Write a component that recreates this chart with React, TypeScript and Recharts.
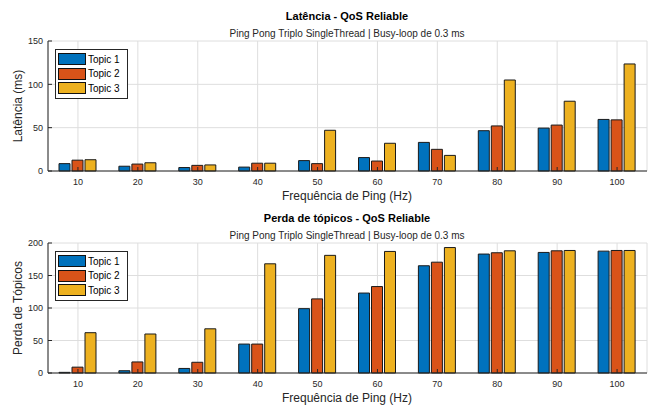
import React from "react"
import { BarChart, Bar, XAxis, YAxis, CartesianGrid } from "recharts"

const freqs = [10, 20, 30, 40, 50, 60, 70, 80, 90, 100]
const topicNames = ["Topic 1", "Topic 2", "Topic 3"]
const topicColors = ["#0072BD", "#D95319", "#EDB120"]

// latência (ms)
const latTopic1 = [8.5, 5.5, 4, 4.5, 12, 15.5, 33, 46.5, 49.5, 59.5]
const latTopic2 = [12.5, 8, 6.5, 9, 8.5, 11.5, 25, 52, 53, 59]
const latTopic3 = [13, 9.5, 7, 9, 47, 32, 18, 105, 80.5, 123.5]
const latTicks = [0, 50, 100, 150]

// perda de tópicos
const lossTopic1 = [1, 3.5, 7, 44.5, 99, 123, 165, 183, 185.5, 187.5]
const lossTopic2 = [9, 17, 16.5, 44.5, 114, 133, 170.5, 185, 188, 188.5]
const lossTopic3 = [62, 60, 68, 168, 181, 187, 193, 188, 188.5, 188.5]
const lossTicks = [0, 50, 100, 150, 200]

const FONT = "'Liberation Sans', Arial, Helvetica, sans-serif"
const AXIS = "#262626"

function buildRows(a: number[], b: number[], c: number[]) {
  return freqs.map((f, i) => ({ freq: f, t1: a[i], t2: b[i], t3: c[i] }))
}

function Label({ x, y, size, bold, rotate, children }: any) {
  return (
    <div
      style={{
        position: "absolute",
        left: x,
        top: y,
        transform: `translate(-50%, -50%)${rotate ? " rotate(-90deg)" : ""}`,
        fontSize: size,
        fontWeight: bold ? "bold" : "normal",
        color: bold ? "#000" : AXIS,
        whiteSpace: "nowrap",
        fontFamily: FONT,
      }}
    >
      {children}
    </div>
  )
}

function LegendBox({ left, top }: { left: number; top: number }) {
  return (
    <div
      style={{
        position: "absolute",
        left,
        top,
        width: 69,
        padding: "2px 0 2px 2px",
        border: `1px solid ${AXIS}`,
        background: "#fff",
        fontFamily: FONT,
        fontSize: 10,
        color: "#000",
      }}
    >
      {topicNames.map((n, i) => (
        <div key={n} style={{ display: "flex", alignItems: "center", height: 14.5 }}>
          <span
            style={{
              display: "inline-block",
              width: 26,
              height: 10,
              background: topicColors[i],
              border: "1px solid #111",
              marginRight: 2,
            }}
          />
          {n}
        </div>
      ))}
    </div>
  )
}

function Panel({
  rows,
  ticks,
  title,
  yLabel,
  top,
  plotBottom,
}: {
  rows: any[]
  ticks: number[]
  title: string
  yLabel: string
  top: number
  plotBottom: number
}) {
  const h = 203
  const maxY = ticks[ticks.length - 1]
  return (
    <div style={{ position: "absolute", left: 0, top, width: 655, height: h }}>
      <BarChart
        width={655}
        height={h}
        data={rows}
        margin={{ top: 41, right: 8, left: 18, bottom: 0 }}
        barCategoryGap={11}
        barGap={2}
      >
        <CartesianGrid stroke="#dedede" />
        <XAxis
          dataKey="freq"
          interval={0}
          height={h - plotBottom}
          stroke={AXIS}
          tickSize={-4}
          tickMargin={12}
          tick={{ fill: AXIS, fontSize: 9, fontFamily: FONT }}
        />
        <XAxis
          xAxisId="top"
          dataKey="freq"
          orientation="top"
          height={0}
          stroke={AXIS}
          tickSize={-4}
          tick={false}
        />
        <YAxis
          type="number"
          domain={[0, maxY]}
          ticks={ticks}
          width={30}
          stroke={AXIS}
          tickSize={-4}
          tickMargin={9}
          tick={{ fill: AXIS, fontSize: 9, fontFamily: FONT }}
        />
        <YAxis
          yAxisId="right"
          type="number"
          orientation="right"
          domain={[0, maxY]}
          ticks={ticks}
          width={0}
          stroke={AXIS}
          tickSize={-4}
          tick={false}
        />
        <Bar dataKey="t1" name={topicNames[0]} fill={topicColors[0]} stroke="#1a1a1a" strokeWidth={1} isAnimationActive={false} />
        <Bar dataKey="t2" name={topicNames[1]} fill={topicColors[1]} stroke="#1a1a1a" strokeWidth={1} isAnimationActive={false} />
        <Bar dataKey="t3" name={topicNames[2]} fill={topicColors[2]} stroke="#1a1a1a" strokeWidth={1} isAnimationActive={false} />
      </BarChart>
      <Label x={347} y={16} size={11} bold>
        {title}
      </Label>
      <Label x={347} y={33} size={10}>
        Ping Pong Triplo SingleThread | Busy-loop de 0.3 ms
      </Label>
      <Label x={347} y={h - 7} size={12}>
        Frequência de Ping (Hz)
      </Label>
      <Label x={18} y={(41 + plotBottom) / 2} size={12} rotate>
        {yLabel}
      </Label>
      <LegendBox left={55} top={49} />
    </div>
  )
}

export default function App() {
  return (
    <div
      style={{
        position: "absolute",
        left: 0,
        top: 0,
        width: 655,
        height: 406,
        background: "#fff",
        overflow: "hidden",
      }}
    >
      <Panel
        rows={buildRows(latTopic1, latTopic2, latTopic3)}
        ticks={latTicks}
        title="Latência - QoS Reliable"
        yLabel="Latência (ms)"
        top={0}
        plotBottom={171}
      />
      <Panel
        rows={buildRows(lossTopic1, lossTopic2, lossTopic3)}
        ticks={lossTicks}
        title="Perda de tópicos - QoS Reliable"
        yLabel="Perda de Tópicos"
        top={202}
        plotBottom={171}
      />
    </div>
  )
}
